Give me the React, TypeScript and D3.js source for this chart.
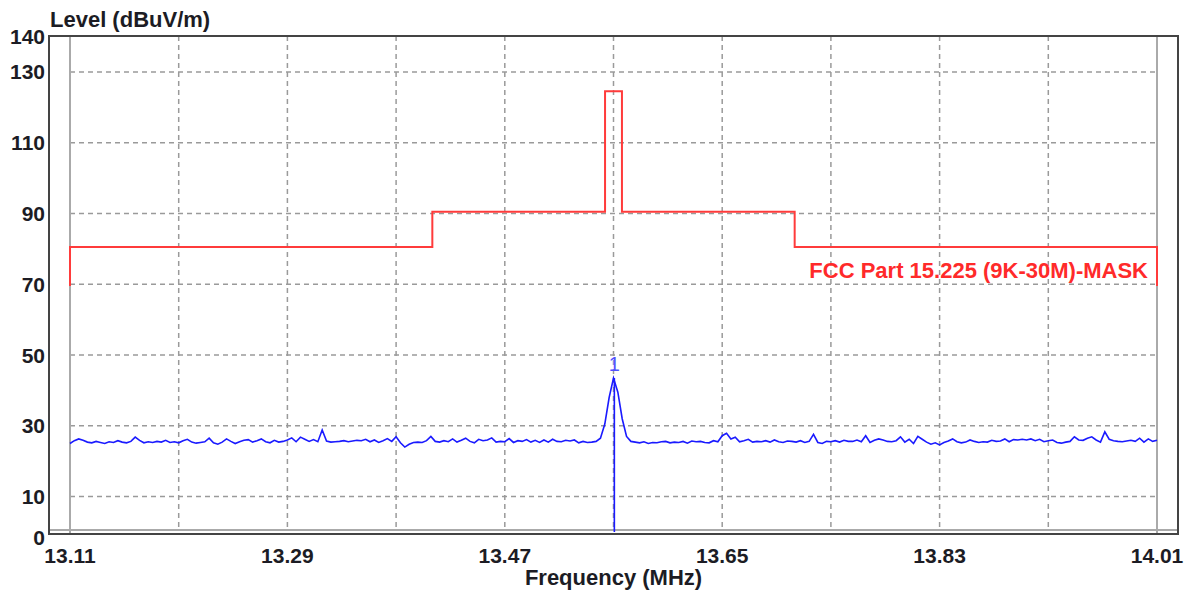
import React from "react";
import * as d3 from "d3";

// ---- data ----
const freqStart = 13.11;
const freqStop = 14.01;
const xTickLabels = [13.11, 13.29, 13.47, 13.65, 13.83, 14.01];
const xGridValues = [13.2, 13.29, 13.38, 13.47, 13.56, 13.65, 13.74, 13.83, 13.92];
const yTickLabels = [0, 10, 30, 50, 70, 90, 110, 130, 140];
const yGridValues = [10, 30, 50, 70, 90, 110, 130];

// FCC Part 15.225 mask: band edges and segment levels
const maskEdges = [13.11, 13.41, 13.553, 13.567, 13.71, 14.01];
const maskLevels = [80.5, 90.5, 124.5, 90.5, 80.5];
const maskEndLevel = 69.5;
const maskLabel = "FCC Part 15.225 (9K-30M)-MASK";

// measured trace (dBuV/m), evenly swept from freqStart to freqStop
const traceLevels = [
  25.0, 25.8, 26.3, 25.9, 25.4, 25.2, 25.6, 25.3, 25.0, 25.5,
  25.3, 25.8, 25.4, 25.2, 25.6, 26.8, 25.9, 25.2, 25.5, 25.3,
  25.6, 25.4, 25.9, 25.3, 25.5, 25.2, 25.8, 26.2, 25.4, 25.1,
  25.3, 25.5, 26.5, 25.2, 24.8, 25.4, 26.3, 25.6, 25.0, 25.5,
  25.9, 26.1, 25.4, 25.8, 26.3, 25.5, 25.2, 25.9, 25.4, 25.6,
  26.0, 26.6, 25.5, 26.8, 26.2, 25.6, 26.1, 25.5, 28.8, 25.7,
  25.4, 25.5, 25.6, 25.8, 25.5, 25.7, 25.9, 25.8, 26.2, 25.5,
  26.0, 25.3, 25.8, 26.4, 25.6, 26.9, 25.2, 24.0, 24.8, 25.3,
  25.4, 25.3, 25.8, 27.0, 25.6, 25.4, 25.8, 25.5, 26.3, 25.4,
  25.9, 26.5, 25.6, 25.2, 26.2, 25.8, 26.0, 26.6, 25.4, 25.6,
  25.5, 26.4, 25.3, 25.8, 25.6, 26.1, 25.4, 25.9, 25.3, 26.0,
  25.4, 26.2, 25.6, 25.5, 25.9, 25.7, 26.0, 25.2, 25.6, 25.3,
  25.4, 25.6, 26.5, 30.5, 38.0, 43.5, 39.5, 32.0, 27.0, 25.6,
  25.4, 25.2, 25.5, 25.0, 25.3, 25.2, 25.5, 25.6, 25.2, 25.4,
  25.3, 25.6, 25.1, 25.7, 25.5, 25.6, 25.3, 25.2, 25.8, 25.5,
  27.2, 27.9, 26.3, 26.8, 25.5, 25.8, 26.2, 25.4, 25.6, 25.5,
  25.8, 25.4, 26.0, 25.5, 25.3, 25.7, 25.6, 25.4, 25.8, 25.3,
  25.6, 27.6, 25.3, 25.0, 25.6, 25.5, 25.8, 25.4, 25.9, 25.6,
  25.6, 26.0, 25.5, 27.2, 25.3, 25.9, 26.3, 26.0, 25.6, 25.5,
  25.8, 26.9, 25.4, 26.2, 25.0, 27.0, 26.2, 25.4, 24.8, 25.2,
  24.6, 25.3, 25.7, 26.3, 25.5, 25.2, 25.4, 26.0, 25.6, 25.3,
  25.5, 25.4, 25.9, 25.6, 25.7, 26.3, 25.5, 26.1, 26.0, 26.2,
  26.0, 26.3, 25.8, 26.2, 25.5, 25.8, 26.0, 25.3, 25.1, 25.4,
  25.6, 26.9, 26.0, 25.9, 26.5, 26.9, 26.0, 25.4, 28.3, 26.2,
  25.8, 25.6, 25.5, 25.7, 25.9, 25.6, 26.5, 25.4, 26.3, 25.6, 25.9,
];
const markerFreq = 13.5607;
const markerLevel = 43.5;
const markerLabel = "1";

const xTitle = "Frequency (MHz)";
const yTitle = "Level (dBuV/m)";

const W = 1194;
const H = 595;
const FONT = "'Liberation Sans', Arial, sans-serif";
const TEXT = "#1c1c24";

export default function App() {
  const x = d3.scaleLinear().domain([freqStart, freqStop]).range([70, 1157]);
  const y = d3.scaleLinear().domain([0, 140]).range([532, 36.5]);

  const step = (freqStop - freqStart) / (traceLevels.length - 1);
  const tracePts: [number, number][] = traceLevels.map((v, i) => [freqStart + i * step, v]);
  const traceLine = d3
    .line<[number, number]>()
    .x((d) => x(d[0]))
    .y((d) => y(d[1]));

  const maskPts: [number, number][] = [[maskEdges[0], maskEndLevel]];
  maskLevels.forEach((lv, i) => {
    maskPts.push([maskEdges[i], lv]);
    maskPts.push([maskEdges[i + 1], lv]);
  });
  maskPts.push([maskEdges[maskEdges.length - 1], maskEndLevel]);

  const left = 49;
  const right = 1178;
  const top = 36;
  const bottom = 534;

  return (
    <svg
      width={W}
      height={H}
      viewBox={`0 0 ${W} ${H}`}
      style={{ position: "absolute", left: 0, top: 0, background: "#fff" }}
    >
      <rect x={0} y={0} width={W} height={H} fill="#fff" />
      {/* grid */}
      {yGridValues.map((v) => (
        <line
          key={"gy" + v}
          x1={x(freqStart)}
          x2={x(freqStop)}
          y1={y(v)}
          y2={y(v)}
          stroke="#9a9a9a"
          strokeWidth={1.5}
          strokeDasharray="5,4"
        />
      ))}
      {xGridValues.map((v) => (
        <line
          key={"gx" + v}
          x1={x(v)}
          x2={x(v)}
          y1={top}
          y2={530}
          stroke="#9a9a9a"
          strokeWidth={1.5}
          strokeDasharray="5,4"
        />
      ))}
      {/* inner gray frame lines */}
      <line x1={x(freqStart)} x2={x(freqStart)} y1={top} y2={bottom} stroke="#aaaaaa" strokeWidth={2} />
      <line x1={x(freqStop)} x2={x(freqStop)} y1={top} y2={bottom} stroke="#aaaaaa" strokeWidth={2} />
      <line x1={left} x2={right} y1={530} y2={530} stroke="#aaaaaa" strokeWidth={2} />
      {/* outer frame */}
      <rect x={left} y={top} width={right - left} height={bottom - top} fill="none" stroke="#444" strokeWidth={2} />

      {/* mask */}
      <path d={traceLine(maskPts) || ""} fill="none" stroke="#ff3b3b" strokeWidth={2} />
      <text
        x={1148}
        y={278}
        textAnchor="end"
        fontFamily={FONT}
        fontWeight="bold"
        fontSize={22}
        fill="#ff2a2a"
      >
        {maskLabel}
      </text>

      {/* trace */}
      <path d={traceLine(tracePts) || ""} fill="none" stroke="#1a1aff" strokeWidth={1.6} />
      <line
        x1={x(markerFreq)}
        x2={x(markerFreq)}
        y1={y(markerLevel)}
        y2={y(0)}
        stroke="#1a1aff"
        strokeWidth={1.6}
      />
      <text
        x={x(markerFreq)}
        y={371}
        textAnchor="middle"
        fontFamily={FONT}
        fontSize={20}
        fill="#5050ff"
      >
        {markerLabel}
      </text>

      {/* y labels */}
      {yTickLabels.map((v) => (
        <text
          key={"yl" + v}
          x={45}
          y={v === 0 ? 537 : v === 140 ? 36 : y(v)}
          textAnchor="end"
          dominantBaseline="central"
          fontFamily={FONT}
          fontWeight="bold"
          fontSize={21}
          fill={TEXT}
        >
          {v}
        </text>
      ))}
      {/* x labels */}
      {xTickLabels.map((v) => (
        <text
          key={"xl" + v}
          x={x(v)}
          y={563}
          textAnchor="middle"
          fontFamily={FONT}
          fontWeight="bold"
          fontSize={21}
          fill={TEXT}
        >
          {v.toFixed(2)}
        </text>
      ))}
      <text
        x={(x(freqStart) + x(freqStop)) / 2}
        y={585}
        textAnchor="middle"
        fontFamily={FONT}
        fontWeight="bold"
        fontSize={22}
        fill={TEXT}
      >
        {xTitle}
      </text>
      <text x={50} y={27} fontFamily={FONT} fontWeight="bold" fontSize={22} fill={TEXT}>
        {yTitle}
      </text>
    </svg>
  );
}
